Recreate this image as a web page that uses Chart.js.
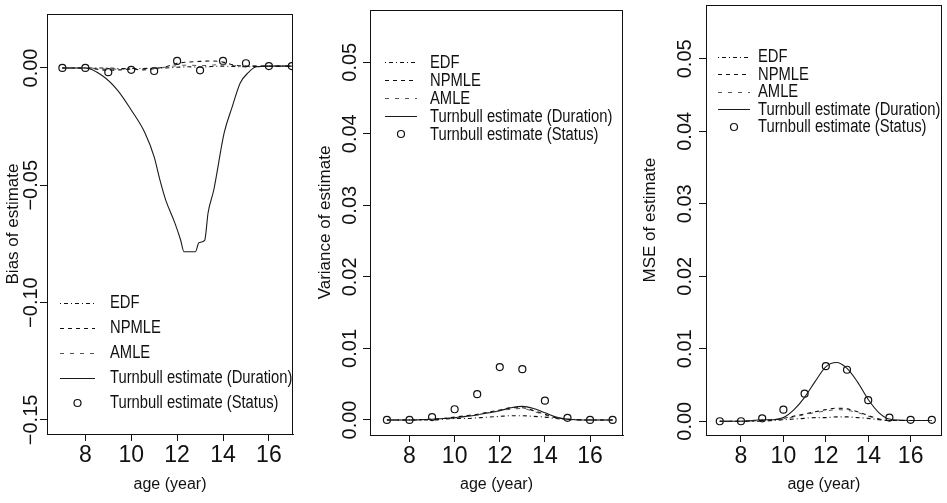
<!DOCTYPE html>
<html>
<head>
<meta charset="utf-8">
<script src="https://cdn.jsdelivr.net/npm/chart.js@4.4.0/dist/chart.umd.min.js"></script>
<style>
	html, body {margin: 0; padding: 0; background: #fff;}
	#wrap {position: relative; width: 947px; height: 503px; overflow: hidden; background: #fff;}
	canvas {position: absolute; top: 0;}
	.legend {position: absolute; font-family: 'Liberation Sans', Arial, sans-serif; font-size: 18px; color: #111; white-space: nowrap;}
	.legend .row {display: flex; align-items: center;}
	.legend svg {display: block; flex: none;}
	.legend span {display: inline-block; transform: scaleX(0.82); transform-origin: 0 50%;}
</style>
</head>
<body>
<div id="wrap">
	<canvas id="bias" width="305" height="503" style="left:0px"></canvas>
	<canvas id="variance" width="320" height="503" style="left:310px"></canvas>
	<canvas id="mse" width="317" height="503" style="left:630px"></canvas>
</div>
<script>
// ages (years) and tick values
var statusAges = [7, 8, 9, 10, 11, 12, 13, 14, 15, 16, 17];
var lineAges = [7, 8, 9, 9.5, 10, 10.5, 11, 11.5, 12, 12.5, 13, 13.5, 14, 14.5, 15, 16, 17];
var biasDurationAges = [7, 8, 8.7, 9.4, 10, 10.6, 11, 11.25, 11.5, 11.9, 12.15, 12.3, 12.8, 12.95, 13.2, 13.35, 13.6, 14.05, 14.4, 14.75, 15.1, 15.45, 16, 17];
var ageTicks = [8, 10, 12, 14, 16];
var biasTicks = [0, -0.05, -0.10, -0.15];
var spreadTicks = [0, 0.01, 0.02, 0.03, 0.04, 0.05];
var seriesNames = ['EDF', 'NPMLE', 'AMLE', 'Turnbull estimate (Duration)', 'Turnbull estimate (Status)'];

// bias
var biasEDF = [0, 0, 0, -0.0003, -0.0002, -0.0002, -0.0001, 0, 0.0003, 0.0005, 0.0004, 0.0006, 0.0008, 0.0006, 0.0005, 0.0008, 0.0008];
var biasNPMLE = [0, 0, -0.0010, -0.0008, -0.0005, -0.0008, -0.0003, 0.0005, 0.0020, 0.0025, 0.0028, 0.0030, 0.0025, 0.0012, 0.0008, 0.0008, 0.0008];
var biasAMLE = [0, 0, -0.0005, -0.0005, -0.0003, -0.0003, 0, 0.0003, 0.0010, 0.0012, 0.0010, 0.0012, 0.0015, 0.0010, 0.0008, 0.0008, 0.0008];
var biasDuration = [0, 0, -0.0030, -0.0094, -0.0179, -0.0277, -0.0379, -0.0477, -0.0562, -0.0660, -0.0732, -0.0783, -0.0783, -0.0745, -0.0735, -0.0617, -0.0519, -0.0277, -0.0166, -0.0064, -0.0020, 0.0005, 0.0008, 0.0008];
var biasStatus = [0, 0, -0.0018, -0.0008, -0.0013, 0.0030, -0.0010, 0.0030, 0.0020, 0.0008, 0.0008];

// variance
var varEDF = [0, 0, 0, 0.0001, 0.0002, 0.0002, 0.0003, 0.0004, 0.0005, 0.0006, 0.0006, 0.0005, 0.0004, 0.0002, 0.0001, 0, 0];
var varNPMLE = [0, 0, 0.0001, 0.0002, 0.0004, 0.0006, 0.0008, 0.0011, 0.0014, 0.0017, 0.0017, 0.0013, 0.0008, 0.0003, 0.0001, 0, 0];
var varAMLE = [0, 0, 0.0001, 0.0002, 0.0003, 0.0005, 0.0007, 0.0010, 0.0013, 0.0015, 0.0016, 0.0012, 0.0007, 0.0003, 0.0001, 0, 0];
var varDuration = [0, 0, 0.0001, 0.0002, 0.0003, 0.0005, 0.0007, 0.0010, 0.0013, 0.0017, 0.0019, 0.0016, 0.0010, 0.0004, 0.0001, 0, 0];
var varStatus = [0, 0, 0.0004, 0.0015, 0.0036, 0.0074, 0.0071, 0.0027, 0.0003, 0, 0];

// mse
var mseEDF = [0, 0, 0, 0.0001, 0.0002, 0.0003, 0.0004, 0.0005, 0.0005, 0.0006, 0.0006, 0.0005, 0.0004, 0.0002, 0.0001, 0.0001, 0.0001];
var mseNPMLE = [0, 0, 0.0001, 0.0002, 0.0004, 0.0007, 0.0010, 0.0013, 0.0016, 0.0018, 0.0017, 0.0013, 0.0008, 0.0003, 0.0001, 0.0001, 0.0001];
var mseAMLE = [0, 0, 0.0001, 0.0002, 0.0003, 0.0006, 0.0009, 0.0012, 0.0014, 0.0016, 0.0015, 0.0012, 0.0007, 0.0003, 0.0001, 0.0001, 0.0001];
var mseDuration = [0, 0, 0.0002, 0.0002, 0.0005, 0.0016, 0.0033, 0.0055, 0.0075, 0.0081, 0.0073, 0.0054, 0.0030, 0.0012, 0.0003, 0.0001, 0.0001];
var mseStatus = [0, 0, 0.0004, 0.0016, 0.0038, 0.0076, 0.0071, 0.0029, 0.0005, 0.0002, 0.0002];

var ink = '#111';
var regular = "'Liberation Sans', Arial, sans-serif";

var lineStyles =
[
	{dash: [1, 3, 4, 3], color: ink, width: 1.1},
	{dash: [4, 4], color: ink, width: 1.1},
	{dash: [4, 6], color: '#555', width: 1},
	{dash: [], color: '#1a1a1a', width: 1.1}
];

function points(xs, ys)
{
	return xs.map(function (x, i) {return {x: x, y: ys[i]}});
}

function formatTick(value)
{
	return (value < 0 ? '\u2212' : '') + Math.abs(value).toFixed(2);
}

var boxPlugin =
{
	id: 'box',
	afterDraw: function (chart)
	{
		var a = chart.chartArea;
		var ctx = chart.ctx;
		ctx.save();
		ctx.strokeStyle = ink;
		ctx.lineWidth = 1;
		ctx.strokeRect(Math.round(a.left) + 0.5, Math.round(a.top) + 0.5, Math.round(a.right - a.left) - 1, Math.round(a.bottom - a.top));
		ctx.restore();
	}
};

function showLegend(chart, legend)
{
	var box = document.createElement('div');
	box.className = 'legend';
	box.style.left = legend.left + 'px';
	box.style.top = legend.top + 'px';

	chart.data.datasets.forEach(function (dataset)
	{
		var row = document.createElement('div');
		row.className = 'row';
		row.style.height = legend.rowHeight + 'px';

		var svg = '<svg width="' + legend.sampleWidth + '" height="12">';
		if (dataset.showLine === false)
		{
			svg += '<circle cx="' + (legend.sampleWidth / 2) + '" cy="6" r="3.5" fill="none" stroke="' + ink + '" stroke-width="1.2"/>';
		}
		else
		{
			svg += '<line x1="0" y1="6.5" x2="' + legend.sampleWidth + '" y2="6.5" stroke="' + dataset.borderColor + '" stroke-width="1" stroke-dasharray="' + dataset.borderDash.join(' ') + '"/>';
		}
		svg += '</svg>';

		row.innerHTML = svg + '<span style="margin-left:' + legend.gap + 'px">' + dataset.label + '</span>';
		box.appendChild(row);
	});

	document.getElementById('wrap').appendChild(box);
}

function showPanel(param)
{
	var datasets = [];

	param.lines.forEach(function (line, index)
	{
		var style = lineStyles[index];
		datasets.push(
		{
			label: seriesNames[index],
			data: points(line.ages, line.values),
			borderColor: style.color,
			borderWidth: style.width,
			borderDash: style.dash,
			pointRadius: 0,
			cubicInterpolationMode: 'monotone',
			fill: false
		});
	});

	datasets.push(
	{
		label: seriesNames[4],
		data: points(statusAges, param.status),
		showLine: false,
		pointStyle: 'circle',
		pointRadius: 3.5,
		pointBorderWidth: 1.2,
		pointBorderColor: ink,
		pointBackgroundColor: 'rgba(255,255,255,0)'
	});

	var chart = new Chart(document.getElementById(param.id),
	{
		type: 'line',
		data: {datasets: datasets},
		options:
		{
			responsive: false,
			animation: false,
			events: [],
			layout: {padding: {left: 0, top: param.padTop, right: param.padRight, bottom: 0}},
			plugins:
			{
				legend: {display: false},
				tooltip: {enabled: false}
			},
			scales:
			{
				x:
				{
					type: 'linear',
					min: param.xMin,
					max: param.xMax,
					afterBuildTicks: function (scale) {scale.ticks = ageTicks.map(function (v) {return {value: v}})},
					afterFit: function (scale)
					{
						scale.height = param.xHeight;
						scale.paddingLeft = 0;
						scale.paddingRight = 0;
					},
					grid: {display: true, drawOnChartArea: false, drawTicks: true, tickLength: 7, color: ink},
					border: {display: true, color: ink},
					ticks: {color: ink, padding: 1, autoSkip: false, maxRotation: 0, font: {family: regular, size: 23}},
					title: {display: true, text: 'age (year)', color: ink, padding: {top: 0, bottom: 9}, font: {family: regular, size: 16}}
				},
				y:
				{
					min: param.yMin,
					max: param.yMax,
					afterBuildTicks: function (scale) {scale.ticks = param.yTicks.map(function (v) {return {value: v}})},
					afterFit: function (scale)
					{
						scale.width = param.yWidth;
						scale.paddingTop = 0;
						scale.paddingBottom = 0;
					},
					grid: {display: true, drawOnChartArea: false, drawTicks: true, tickLength: 7, color: ink},
					border: {display: true, color: ink},
					ticks: {color: ink, padding: param.yTickPad, crossAlign: 'center', minRotation: 90, maxRotation: 90, callback: formatTick, font: {family: regular, size: 20}},
					title: {display: true, text: param.yTitle, color: ink, padding: {top: param.yTitlePad, bottom: 0}, font: {family: regular, size: 17}}
				}
			}
		},
		plugins: [boxPlugin]
	});

	showLegend(chart, param.legend);
	return chart;
}

showPanel(
{
	id: 'bias',
	lines:
	[
		{ages: lineAges, values: biasEDF},
		{ages: lineAges, values: biasNPMLE},
		{ages: lineAges, values: biasAMLE},
		{ages: biasDurationAges, values: biasDuration}
	],
	status: biasStatus,
	xMin: 6.33, xMax: 17.05,
	yMin: -0.156, yMax: 0.023,
	yTicks: biasTicks,
	yTitle: 'Bias of estimate',
	padTop: 14, padRight: 12, xHeight: 69, yWidth: 47, yTickPad: -17, yTitlePad: 3,
	legend: {left: 60, top: 290, rowHeight: 25, sampleWidth: 35, gap: 15}
});

showPanel(
{
	id: 'variance',
	lines:
	[
		{ages: lineAges, values: varEDF},
		{ages: lineAges, values: varNPMLE},
		{ages: lineAges, values: varAMLE},
		{ages: lineAges, values: varDuration}
	],
	status: varStatus,
	xMin: 6.25, xMax: 17.46,
	yMin: -0.0021, yMax: 0.0573,
	yTicks: spreadTicks,
	yTitle: 'Variance of estimate',
	padTop: 10, padRight: 7, xHeight: 68, yWidth: 60, yTickPad: -6.5, yTitlePad: 5,
	legend: {left: 385, top: 53, rowHeight: 18, sampleWidth: 32, gap: 13}
});

showPanel(
{
	id: 'mse',
	lines:
	[
		{ages: lineAges, values: mseEDF},
		{ages: lineAges, values: mseNPMLE},
		{ages: lineAges, values: mseAMLE},
		{ages: lineAges, values: mseDuration}
	],
	status: mseStatus,
	xMin: 6.35, xMax: 17.47,
	yMin: -0.0019, yMax: 0.0574,
	yTicks: spreadTicks,
	yTitle: 'MSE of estimate',
	padTop: 3, padRight: 2, xHeight: 68, yWidth: 76, yTickPad: -5.5, yTitlePad: 10,
	legend: {left: 718, top: 48, rowHeight: 17.5, sampleWidth: 32, gap: 8}
});
</script>
</body>
</html>
